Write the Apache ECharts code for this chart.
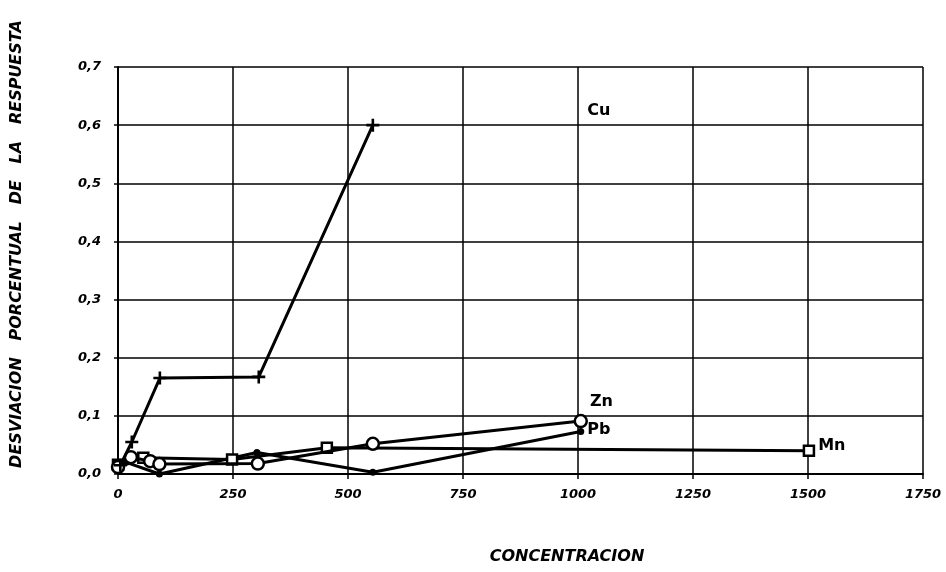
<!DOCTYPE html>
<html>
<head>
<meta charset="utf-8">
<script src="https://cdn.jsdelivr.net/npm/echarts@6/dist/echarts.min.js"></script>
<style>
  html, body { margin: 0; padding: 0; background: #ffffff; }
  #chart { width: 946px; height: 572px; }
</style>
</head>
<body>
<div id="chart"></div>
<script>
// Concentración (x) vs desviación porcentual de la respuesta (y) for each element
const cuPoints = [[5, 0.015], [30, 0.055], [91, 0.165], [306, 0.167], [554, 0.600]];
const znPoints = [[0, 0.012], [28, 0.029], [70, 0.022], [90, 0.017], [304, 0.018], [554, 0.052], [1006, 0.091]];
const pbPoints = [[0, 0.006], [18, 0.02], [90, 0.0], [302, 0.037], [554, 0.003], [1006, 0.073]];
const mnPoints = [[0, 0.016], [55, 0.028], [248, 0.025], [454, 0.045], [1502, 0.040]];

const xTicks = [0, 250, 500, 750, 1000, 1250, 1500, 1750];
const yTicks = [0, 0.1, 0.2, 0.3, 0.4, 0.5, 0.6, 0.7];

const ink = '#000000';
const tickFont = { color: ink, fontFamily: 'DejaVu Sans', fontStyle: 'italic', fontWeight: 'bold', fontSize: 13 };
const nameFont = { color: ink, fontFamily: 'DejaVu Sans', fontWeight: 'bold', fontSize: 16 };

// plus-shaped marker for the Cu curve
const plusSymbol = 'path://M4,0H6V4H10V6H6V10H4V6H0V4H4Z';

// attach the element name to the last point of a curve
function withEndLabel(points, name, distance, offset) {
  return points.map((p, i) => i === points.length - 1
    ? { value: p, label: { show: true, formatter: name, position: 'right', distance: distance, offset: offset, ...nameFont } }
    : { value: p });
}

const chart = echarts.init(document.getElementById('chart'), null, { renderer: 'canvas' });

chart.setOption({
  animation: false,
  backgroundColor: '#ffffff',
  grid: { left: 118, right: 23, top: 67, bottom: 98, containLabel: false },
  xAxis: {
    type: 'value',
    min: xTicks[0],
    max: xTicks[xTicks.length - 1],
    interval: 250,
    axisLine: { show: true, lineStyle: { color: ink, width: 2 } },
    axisTick: { show: true, length: 5, lineStyle: { color: ink, width: 1.5 } },
    axisLabel: { margin: 14, ...tickFont, formatter: v => xTicks.includes(v) ? String(v) : '' },
    splitLine: { show: true, lineStyle: { color: ink, width: 1.5 } }
  },
  yAxis: {
    type: 'value',
    min: yTicks[0],
    max: yTicks[yTicks.length - 1],
    interval: 0.1,
    axisLine: { show: true, lineStyle: { color: ink, width: 2 } },
    axisTick: { show: true, length: 4, lineStyle: { color: ink, width: 1.5 } },
    axisLabel: { margin: 17, ...tickFont, formatter: v => v.toFixed(1).replace('.', ',') },
    splitLine: { show: true, lineStyle: { color: ink, width: 1.5 } }
  },
  graphic: [
    {
      type: 'text',
      x: 17, y: 244,
      rotation: Math.PI / 2,
      style: {
        text: 'DESVIACION   PORCENTUAL   DE   LA   RESPUESTA',
        fill: ink,
        font: 'italic bold 16px "DejaVu Sans"',
        align: 'center',
        verticalAlign: 'middle'
      }
    },
    {
      type: 'text',
      x: 567, y: 557,
      style: {
        text: 'CONCENTRACION',
        fill: ink,
        font: 'italic bold 16px "DejaVu Sans"',
        align: 'center',
        verticalAlign: 'middle'
      }
    }
  ],
  series: [
    {
      name: 'Mn',
      type: 'line',
      data: withEndLabel(mnPoints, 'Mn', 3, [0, -5]),
      symbol: 'rect',
      symbolSize: 10,
      showAllSymbol: true,
      lineStyle: { color: ink, width: 3 },
      itemStyle: { color: '#ffffff', borderColor: ink, borderWidth: 2.5 },
      z: 3
    },
    {
      name: 'Pb',
      type: 'line',
      data: withEndLabel(pbPoints, 'Pb', 3, [0, -2]),
      symbol: 'circle',
      symbolSize: 7,
      showAllSymbol: true,
      lineStyle: { color: ink, width: 3 },
      itemStyle: { color: ink, borderColor: ink, borderWidth: 0 },
      z: 3
    },
    {
      name: 'Zn',
      type: 'line',
      data: withEndLabel(znPoints, 'Zn', 2, [0, -19]),
      symbol: 'circle',
      symbolSize: 12,
      showAllSymbol: true,
      lineStyle: { color: ink, width: 3 },
      itemStyle: { color: '#ffffff', borderColor: ink, borderWidth: 2.5 },
      z: 4
    },
    {
      name: 'Cu',
      type: 'line',
      data: cuPoints,
      symbol: plusSymbol,
      symbolSize: 13,
      showAllSymbol: true,
      lineStyle: { color: ink, width: 3 },
      itemStyle: { color: ink },
      markPoint: {
        symbol: 'circle',
        symbolSize: 0,
        data: [{ coord: [1020, 0.624], value: 'Cu' }],
        label: { show: true, position: 'right', distance: 0, formatter: 'Cu', ...nameFont }
      },
      z: 5
    }
  ]
});
</script>
</body>
</html>
